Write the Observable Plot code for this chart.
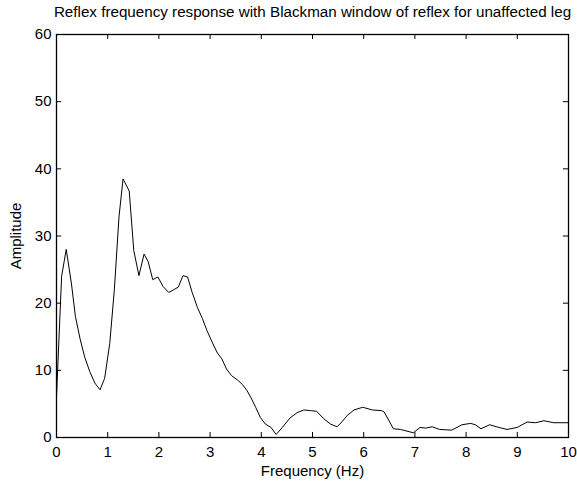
<!DOCTYPE html>
<html>
<head>
<meta charset="utf-8">
<script src="https://cdn.jsdelivr.net/npm/d3@7"></script>
<script src="https://cdn.jsdelivr.net/npm/@observablehq/plot@0.6"></script>
<style>
  html, body { margin: 0; padding: 0; background: #fff; }
  #chart svg { display: block; }
</style>
</head>
<body>
<div id="chart"></div>
<script>
const chartTitle = "Reflex frequency response with Blackman window of reflex for unaffected leg";
const xLabel = "Frequency (Hz)";
const yLabel = "Amplitude";
const xTicks = [0, 1, 2, 3, 4, 5, 6, 7, 8, 9, 10];
const yTicks = [0, 10, 20, 30, 40, 50, 60];

const freq = [0.00, 0.10, 0.19, 0.29, 0.37, 0.46, 0.55, 0.65, 0.75, 0.85,
  0.94, 1.04, 1.13, 1.22, 1.30, 1.42, 1.51, 1.61, 1.71, 1.79,
  1.88, 1.98, 2.08, 2.19, 2.29, 2.38, 2.47, 2.56, 2.65, 2.75,
  2.85, 2.94, 3.04, 3.14, 3.23, 3.32, 3.42, 3.53, 3.63, 3.72,
  3.80, 3.89, 3.98, 4.08, 4.19, 4.29, 4.41, 4.56, 4.70, 4.83,
  4.96, 5.08, 5.22, 5.35, 5.48, 5.57, 5.68, 5.81, 5.98, 6.17,
  6.35, 6.40, 6.58, 6.72, 6.97, 7.10, 7.21, 7.34, 7.48, 7.72,
  7.92, 8.09, 8.18, 8.29, 8.46, 8.64, 8.80, 9.00, 9.19, 9.36,
  9.52, 9.71, 10.0];
const amplitude = [6, 24, 28, 23, 18, 14.7, 12, 9.8, 8.1, 7.1,
  8.8, 14, 22, 32.8, 38.5, 36.7, 27.8, 24.1, 27.3, 26.2,
  23.5, 23.9, 22.5, 21.6, 22.0, 22.4, 24.1, 23.9, 21.6, 19.4,
  17.7, 15.9, 14.2, 12.6, 11.7, 10.2, 9.2, 8.6, 7.9, 7.0,
  5.9, 4.5, 3.0, 2.0, 1.5, 0.45, 1.5, 2.9, 3.7, 4.1,
  4.0, 3.9, 2.8, 2.0, 1.6, 2.3, 3.3, 4.1, 4.5, 4.1,
  4.0, 3.8, 1.3, 1.2, 0.7, 1.5, 1.4, 1.6, 1.2, 1.1,
  1.9, 2.1, 1.9, 1.3, 1.9, 1.5, 1.2, 1.5, 2.3, 2.2,
  2.5, 2.2, 2.2];

const data = freq.map((f, i) => ({f, a: amplitude[i]}));
const font = "'Liberation Sans', Arial, Helvetica, sans-serif";

// inward tick lengths expressed in data units
const xTickLenY = 0.75; // y units for x-axis ticks
const yTickLenX = 0.1;  // x units for y-axis ticks

const chart = Plot.plot({
  width: 577,
  height: 481,
  marginLeft: 56,
  marginRight: 9,
  marginTop: 34,
  marginBottom: 44,
  style: {fontFamily: font, fontSize: "15px", color: "#000", background: "#fff"},
  x: {domain: [0, 10]},
  y: {domain: [0, 60]},
  marks: [
    Plot.axisX(xTicks, {tickSize: 0, tickPadding: 9, fontSize: 15, label: xLabel, labelAnchor: "center", labelArrow: "none", labelOffset: 38}),
    Plot.axisY(yTicks, {tickSize: 0, tickPadding: 5, fontSize: 15, label: yLabel, labelAnchor: "center", labelArrow: "none", labelOffset: 46}),
    Plot.ruleX(xTicks, {x: d => d, y1: 0, y2: xTickLenY, stroke: "#000"}),
    Plot.ruleX(xTicks, {x: d => d, y1: 60, y2: 60 - xTickLenY, stroke: "#000"}),
    Plot.ruleY(yTicks, {y: d => d, x1: 0, x2: yTickLenX, stroke: "#000"}),
    Plot.ruleY(yTicks, {y: d => d, x1: 10, x2: 10 - yTickLenX, stroke: "#000"}),
    Plot.line(data, {x: "f", y: "a", stroke: "#000", strokeWidth: 1}),
    Plot.frame({stroke: "#000", strokeWidth: 1.3}),
    Plot.text([chartTitle], {frameAnchor: "top", lineAnchor: "middle", dy: -22, fontSize: 15.2, fill: "#000"})
  ]
});
document.getElementById("chart").appendChild(chart);
</script>
</body>
</html>
